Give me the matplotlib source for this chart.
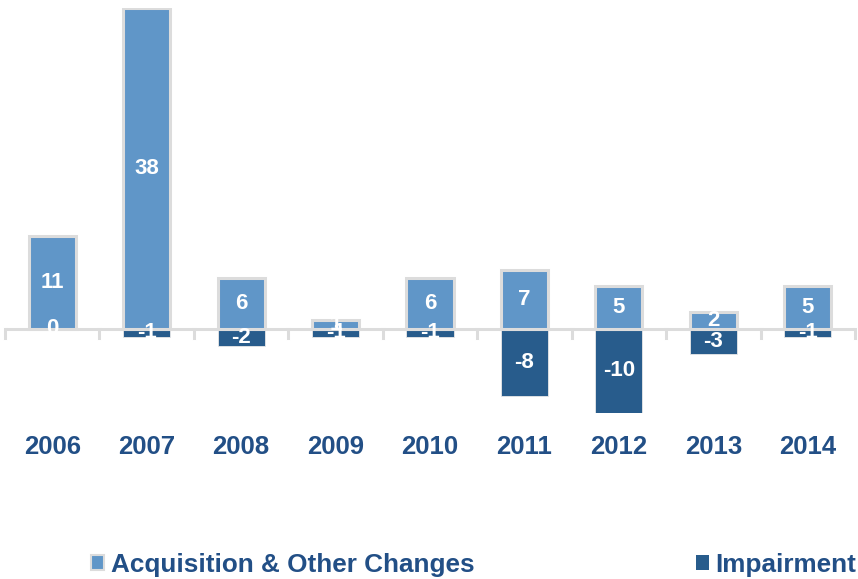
import matplotlib.pyplot as plt
from matplotlib.transforms import blended_transform_factory

plt.rcParams['font.family'] = ['Liberation Sans', 'DejaVu Sans']

anos = ['2006', '2007', '2008', '2009', '2010', '2011', '2012', '2013', '2014']
aquisicao = [11, 38, 6, 1, 6, 7, 5, 2, 5]
imparidade = [0, -1, -2, -1, -1, -8, -10, -3, -1]

cor_clara = '#6096C8'
cor_escura = '#285C8C'
cor_texto = '#224F86'
cinza = '#DCDCDC'

fig = plt.figure(figsize=(8.58, 5.79), dpi=100)
ax = fig.add_axes([5 / 858, 1 - 413 / 579, 850 / 858, 405 / 579])

x = list(range(len(anos)))
ax.bar(x, imparidade, width=0.5, color=cor_escura, edgecolor='#E8E8E8', linewidth=0.6, zorder=2)
ax.bar(x, aquisicao, width=0.5, color=cor_clara, edgecolor=cinza, linewidth=2.2, zorder=3)

ax.axhline(0, color=cinza, linewidth=2.2, zorder=2.5)
for b in range(len(anos) + 1):
    ax.plot([b - 0.5, b - 0.5], [0, -1.1], color=cinza, linewidth=2.2, zorder=2.5, clip_on=False)

for i in x:
    ax.text(i, aquisicao[i] / 2, str(aquisicao[i]), ha='center', va='center',
            color='white', fontsize=16, fontweight='bold', zorder=5)
    ax.text(i, imparidade[i] / 2, str(imparidade[i]), ha='center', va='center',
            color='white', fontsize=16, fontweight='bold', zorder=5)

trans = blended_transform_factory(ax.transData, fig.transFigure)
for i in x:
    ax.text(i, 1 - 447 / 579, anos[i], transform=trans, ha='center', va='center',
            color=cor_texto, fontsize=18.5, fontweight='bold')

ax.set_xlim(-0.5, len(anos) - 0.5)
ax.set_ylim(-10, 38)
ax.axis('off')

# legenda (duas caixas separadas)
h1 = plt.Rectangle((0, 0), 1, 1, facecolor=cor_clara, edgecolor=cinza, linewidth=1.5)
h2 = plt.Rectangle((0, 0), 1, 1, facecolor=cor_escura, edgecolor='none')
props = dict(loc='center left', frameon=False, handlelength=0.5, handleheight=0.5,
             handletextpad=0.25, borderpad=0, borderaxespad=0,
             prop={'size': 18.8, 'weight': 'bold'})
leg1 = fig.legend([h1], ['Acquisition & Other Changes'],
                  bbox_to_anchor=(91 / 858, 1 - 565 / 579), **props)
leg2 = fig.legend([h2], ['Impairment'],
                  bbox_to_anchor=(696 / 858, 1 - 565 / 579), **props)
for leg in (leg1, leg2):
    for t in leg.get_texts():
        t.set_color(cor_texto)

fig.savefig('out.png', dpi=100)
